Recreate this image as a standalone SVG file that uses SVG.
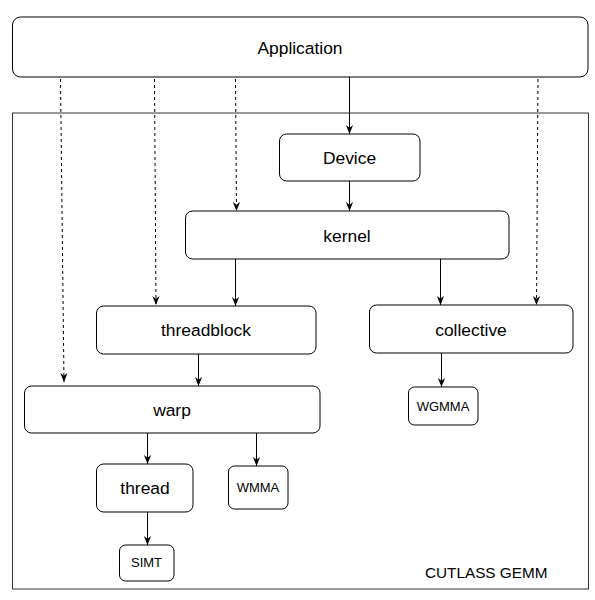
<svg xmlns="http://www.w3.org/2000/svg" width="595" height="600" viewBox="0 0 595 600">
  <style>
    .box { fill: #ffffff; stroke: #000000; stroke-width: 1; }
    .frame { fill: none; stroke: #333333; stroke-width: 1; }
    .lbl { font-family: "Liberation Sans", Arial, Helvetica, sans-serif; font-size: 17.4px; fill: #000000; text-anchor: middle; }
    .sm { font-family: "Liberation Sans", Arial, Helvetica, sans-serif; font-size: 13px; fill: #000000; text-anchor: middle; }
    .cap { font-family: "Liberation Sans", Arial, Helvetica, sans-serif; font-size: 15.3px; fill: #000000; }
    .solid { fill: none; stroke: #000000; stroke-width: 1; marker-end: url(#arr); }
    .dash { fill: none; stroke: #000000; stroke-width: 1; stroke-dasharray: 3 3; marker-end: url(#arr); }
  </style>
  <defs>
    <marker id="arr" viewBox="0 0 10 10" markerUnits="userSpaceOnUse" markerWidth="9" markerHeight="9" refX="10" refY="5" orient="auto">
      <path d="M0,1 L10,5 L0,9 L3,5 Z" fill="#000000"/>
    </marker>
  </defs>
  <rect width="595" height="600" fill="#ffffff"/>

  <g id="cutlass-gemm">
    <rect class="frame" x="12.5" y="113" width="576" height="476"/>
    <text class="cap" x="425" y="577.5">CUTLASS GEMM</text>
  </g>

  <g id="application">
    <rect class="box" x="12.5" y="17" width="575.5" height="60" rx="8" ry="8"/>
    <text class="lbl" x="300" y="54">Application</text>
  </g>

  <g id="device">
    <rect class="box" x="279.5" y="134" width="140.5" height="47" rx="7" ry="7"/>
    <text class="lbl" x="349.5" y="164">Device</text>
  </g>

  <g id="kernel">
    <rect class="box" x="185.5" y="211" width="323.5" height="48" rx="7" ry="7"/>
    <text class="lbl" x="347" y="241.5">kernel</text>
  </g>

  <g id="threadblock">
    <rect class="box" x="96.5" y="306" width="219.5" height="48" rx="7" ry="7"/>
    <text class="lbl" x="206" y="336">threadblock</text>
  </g>

  <g id="collective">
    <rect class="box" x="369.5" y="305" width="203.5" height="48" rx="7" ry="7"/>
    <text class="lbl" x="471" y="335.5">collective</text>
  </g>

  <g id="warp">
    <rect class="box" x="24.5" y="386" width="295.5" height="47" rx="7" ry="7"/>
    <text class="lbl" x="172" y="416">warp</text>
  </g>

  <g id="thread">
    <rect class="box" x="96.5" y="464" width="96.5" height="48" rx="7" ry="7"/>
    <text class="lbl" x="145" y="494">thread</text>
  </g>

  <g id="wmma">
    <rect class="box" x="228.5" y="466" width="59.5" height="43" rx="6" ry="6"/>
    <text class="sm" x="258" y="492">WMMA</text>
  </g>

  <g id="wgmma">
    <rect class="box" x="408.5" y="387" width="69.5" height="38" rx="6" ry="6"/>
    <text class="sm" x="443" y="410.5">WGMMA</text>
  </g>

  <g id="simt">
    <rect class="box" x="119.5" y="545" width="54.5" height="36" rx="6" ry="6"/>
    <text class="sm" x="146.5" y="567">SIMT</text>
  </g>

  <g id="connectors">
    <path class="solid" d="M349.5,77 L349.5,134"/>
    <path class="solid" d="M349.5,181 L349.5,211"/>
    <path class="solid" d="M235.5,259 L235.5,306"/>
    <path class="solid" d="M440.5,259 L440.5,305"/>
    <path class="solid" d="M198.5,354 L198.5,386"/>
    <path class="solid" d="M147.5,433 L147.5,464"/>
    <path class="solid" d="M256.5,433 L256.5,466"/>
    <path class="solid" d="M147.5,512 L147.5,545"/>
    <path class="solid" d="M441.5,353 L441.5,387"/>
    <path class="dash" d="M60.5,79 L64,382"/>
    <path class="dash" d="M154.5,79 L156,305"/>
    <path class="dash" d="M235.5,79 L236.5,211"/>
    <path class="dash" d="M538,79 L536.5,305"/>
  </g>
</svg>
